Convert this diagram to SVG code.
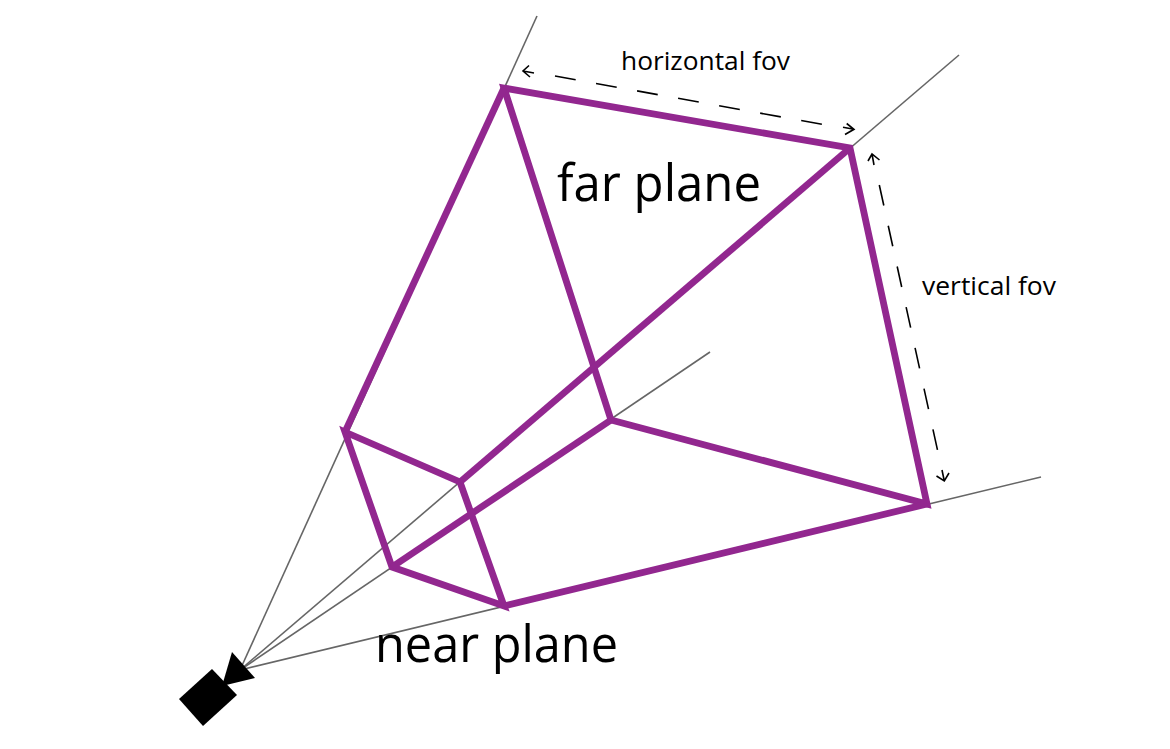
<svg xmlns="http://www.w3.org/2000/svg" width="1170" height="749" viewBox="0 0 1170 749">
<style>
.ray{stroke:#666;stroke-width:1.6;fill:none}
.edge{stroke:#92278f;stroke-width:6.8;fill:none;stroke-linejoin:miter;stroke-linecap:butt}
.dash{stroke:#000;stroke-width:1.6;fill:none;stroke-dasharray:21 20.7}
.head{stroke:#000;stroke-width:1.6;fill:none}
text{font-family:"Open Sans","Noto Sans","Liberation Sans",sans-serif;fill:#000}
.big{font-size:52px}
.small{font-size:25px}
</style>
<rect width="1170" height="749" fill="#fff"/>
<g id="connectors">
<path class="ray" d="M240 670L537 16"/>
<path class="ray" d="M240 670L959 55"/>
<path class="ray" d="M240 670L710 352"/>
<path class="ray" d="M240 670L1041 477"/>
</g>
<g id="camera">
<polygon points="212,669 179,699 203,726 237,695"/>
<polygon points="232,652 255,678 222,686"/>
</g>
<g id="far-plane">
<path class="edge" d="M504 88L850 148L927 504L611 420Z"/>
<text class="big" x="557" y="201" textLength="204" lengthAdjust="spacingAndGlyphs">far plane</text>
</g>
<g id="near-plane">
<path class="edge" d="M345 432L460 482L504 606L392 567Z"/>
<text class="big" x="375" y="662" textLength="243" lengthAdjust="spacingAndGlyphs">near plane</text>
</g>
<g id="frustum-edges">
<path class="edge" d="M504 88L345 432"/>
<path class="edge" d="M850 148L460 482"/>
<path class="edge" d="M927 504L504 606"/>
<path class="edge" d="M611 420L392 567"/>
</g>
<g id="horizontal-fov">
<path class="dash" d="M555 76L823 124.500"/>
<path class="head" d="M529 65.500L523 71L530 77M523 71L534 73"/>
<path class="head" d="M846.700 123.500L854 129.300L845 134.500M854 129.300L843 127.300"/>
<text class="small" x="621" y="70" textLength="169" lengthAdjust="spacingAndGlyphs">horizontal fov</text>
</g>
<g id="vertical-fov">
<path class="dash" d="M879.300 185L937.700 451"/>
<path class="head" d="M868 161L872 154L879.500 160M872 154L874 165"/>
<path class="head" d="M936.500 476L944.300 481L949 473M944.300 481L942 470"/>
<text class="small" x="922" y="295" textLength="134" lengthAdjust="spacingAndGlyphs">vertical fov</text>
</g>
</svg>
